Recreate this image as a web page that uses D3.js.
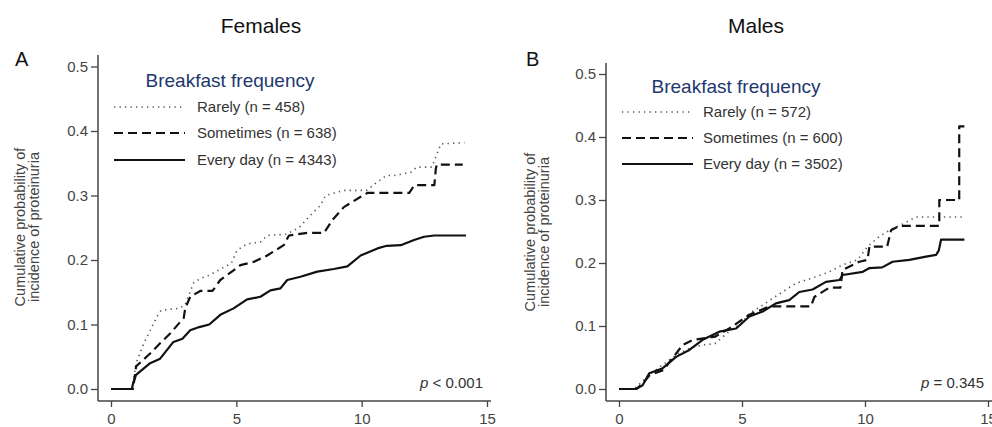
<!DOCTYPE html>
<html>
<head>
<meta charset="utf-8">
<script src="https://cdn.jsdelivr.net/npm/d3@7"></script>
<style>
  html, body { margin: 0; padding: 0; background: #fff; }
  svg { display: block; font-family: "Liberation Sans", Arial, sans-serif; }
</style>
</head>
<body>
<svg id="chart" width="992" height="427"></svg>
<script>
// ---------- data ----------
const xTicks = [0, 5, 10, 15];
const yTicks = [0, 0.1, 0.2, 0.3, 0.4, 0.5];
const panelTitles = ["Females", "Males"];
const panelLetters = ["A", "B"];
const legendTitle = "Breakfast frequency";
const seriesNames = ["Rarely", "Sometimes", "Every day"];
const femaleN = [458, 638, 4343];
const maleN = [572, 600, 3502];
const pValues = ["< 0.001", "= 0.345"];
const yAxisLabel = ["Cumulative probability of", "incidence of proteinuria"];

// cumulative incidence curves: [years, probability]
const femaleRarely = [[0,0],[0.85,0],[1.0,0.04],[1.3,0.07],[1.83,0.112],[2.0,0.122],[2.7,0.125],[2.95,0.13],[3.3,0.165],[3.6,0.172],[3.9,0.176],[4.8,0.195],[5.03,0.215],[5.43,0.225],[5.96,0.228],[6.23,0.238],[7.0,0.24],[7.5,0.25],[7.9,0.267],[8.36,0.285],[8.56,0.3],[9.29,0.308],[10.2,0.308],[10.56,0.319],[10.99,0.331],[11.3,0.331],[11.96,0.336],[12.2,0.344],[12.8,0.344],[13.16,0.38],[14.1,0.382]];
const femaleSometimes = [[0,0],[0.88,0],[1.0,0.035],[1.56,0.055],[1.96,0.071],[2.36,0.086],[2.76,0.104],[2.9,0.11],[2.96,0.125],[3.16,0.143],[3.56,0.152],[4.05,0.152],[4.36,0.169],[4.89,0.184],[5.16,0.192],[5.69,0.197],[6.23,0.207],[6.89,0.223],[7.1,0.238],[7.83,0.242],[8.5,0.242],[8.83,0.262],[9.29,0.282],[9.96,0.298],[10.23,0.304],[11.9,0.304],[12.1,0.316],[12.9,0.316],[12.96,0.342],[13.0,0.348],[14.03,0.348]];
const femaleEveryDay = [[0,0],[0.83,0],[0.89,0.01],[1.0,0.022],[1.56,0.04],[1.96,0.047],[2.49,0.073],[2.85,0.078],[3.16,0.091],[3.52,0.096],[3.92,0.1],[4.36,0.115],[4.89,0.125],[5.43,0.139],[5.96,0.143],[6.36,0.153],[6.76,0.156],[7.03,0.169],[7.56,0.174],[8.23,0.182],[8.89,0.186],[9.43,0.19],[9.96,0.207],[10.63,0.218],[11.0,0.222],[11.56,0.223],[12.09,0.231],[12.49,0.236],[12.89,0.238],[14.16,0.238]];

const maleRarely = [[0,0],[0.6,0],[0.9,0.01],[1.2,0.022],[1.6,0.033],[2.0,0.045],[2.4,0.056],[2.9,0.065],[3.4,0.07],[3.9,0.072],[4.5,0.092],[5.0,0.105],[5.3,0.12],[5.8,0.132],[6.25,0.144],[6.8,0.158],[7.2,0.168],[8.0,0.178],[8.55,0.186],[9.09,0.197],[9.7,0.205],[10.1,0.226],[10.58,0.242],[11.12,0.255],[11.5,0.261],[12.07,0.273],[14.1,0.273]];
const maleSometimes = [[0,0],[0.7,0],[0.95,0.008],[1.25,0.022],[1.8,0.03],[2.2,0.05],[2.59,0.07],[3.0,0.078],[3.9,0.083],[4.48,0.096],[5.3,0.118],[6.11,0.131],[7.8,0.131],[7.94,0.146],[8.55,0.161],[9.0,0.161],[9.09,0.189],[9.77,0.202],[10.1,0.205],[10.18,0.226],[10.9,0.226],[11.06,0.252],[11.4,0.259],[13.02,0.259],[13.02,0.3],[13.83,0.3],[13.83,0.417],[14.04,0.417]];
const maleEveryDay = [[0,0],[0.69,0],[0.96,0.006],[1.23,0.025],[1.78,0.033],[2.32,0.051],[2.86,0.062],[3.4,0.078],[4.08,0.091],[4.76,0.096],[5.3,0.115],[5.84,0.123],[6.38,0.136],[6.92,0.141],[7.33,0.154],[7.87,0.158],[8.41,0.17],[8.96,0.173],[9.09,0.181],[9.91,0.186],[10.18,0.192],[10.7,0.193],[11.12,0.202],[11.8,0.205],[12.48,0.21],[12.89,0.213],[13.0,0.22],[13.09,0.237],[14.04,0.237]];

// ---------- layout ----------
const panels = [
  { title: panelTitles[0], letter: panelLetters[0], n: femaleN, p: pValues[0],
    series: [femaleRarely, femaleSometimes, femaleEveryDay],
    xRange: [111, 487], yRange: [389, 66.5], axisX: 98, axisY: 401, spineTop: 55, spineRight: 491,
    titleX: 261, letterX: 15, labelX: [25, 39], labelY: 227,
    legLine: [114, 185], legText: 197, legTitleX: 230, legTitleY: 87, legRows: [107, 133, 160], legTextDy: 5,
    pX: 483 },
  { title: panelTitles[1], letter: panelLetters[1], n: maleN, p: pValues[1],
    series: [maleRarely, maleSometimes, maleEveryDay],
    xRange: [619, 988], yRange: [389, 74], axisX: 606, axisY: 401, spineTop: 63, spineRight: 992,
    titleX: 756, letterX: 526, labelX: [535, 549], labelY: 232,
    legLine: [622, 693], legText: 703, legTitleX: 736, legTitleY: 93, legRows: [112, 138, 164], legTextDy: 5,
    pX: 984 }
];

const styles = [
  { dash: "1.3,4.2", width: 1.6, color: "#555" },
  { dash: "9,5", width: 2.2, color: "#111" },
  { dash: null, width: 2.2, color: "#111" }
];

const svg = d3.select("#chart");
const axisColor = "#444";

panels.forEach(pn => {
  const g = svg.append("g");
  const x = d3.scaleLinear().domain([0, 15]).range(pn.xRange);
  const y = d3.scaleLinear().domain([0, 0.5]).range(pn.yRange);

  // title & letter
  g.append("text").attr("x", pn.titleX).attr("y", 33).attr("text-anchor", "middle")
    .attr("font-size", 21).attr("fill", "#111").text(pn.title);
  g.append("text").attr("x", pn.letterX).attr("y", 66)
    .attr("font-size", 20).attr("fill", "#111").text(pn.letter);

  // y axis
  const ya = g.append("g").attr("transform", `translate(${pn.axisX},0)`)
    .call(d3.axisLeft(y).tickValues(yTicks).tickFormat(d3.format(".1f")).tickSize(7).tickPadding(3));
  ya.select(".domain").remove();
  ya.selectAll(".tick line").attr("stroke", axisColor).attr("stroke-width", 1.3);
  ya.selectAll(".tick text").attr("font-size", 15).attr("fill", axisColor).attr("font-family", "Liberation Sans, Arial, sans-serif");
  g.append("line").attr("x1", pn.axisX).attr("x2", pn.axisX).attr("y1", pn.spineTop).attr("y2", pn.axisY)
    .attr("stroke", axisColor).attr("stroke-width", 1.5);

  // x axis
  const xa = g.append("g").attr("transform", `translate(0,${pn.axisY})`)
    .call(d3.axisBottom(x).tickValues(xTicks).tickFormat(d3.format("d")).tickSize(6).tickPadding(6));
  xa.select(".domain").remove();
  xa.selectAll(".tick line").attr("stroke", axisColor).attr("stroke-width", 1.3);
  xa.selectAll(".tick text").attr("font-size", 15).attr("fill", axisColor).attr("font-family", "Liberation Sans, Arial, sans-serif");
  g.append("line").attr("x1", pn.axisX).attr("x2", pn.spineRight).attr("y1", pn.axisY).attr("y2", pn.axisY)
    .attr("stroke", axisColor).attr("stroke-width", 1.5);

  // y axis label
  yAxisLabel.forEach((s, i) => {
    g.append("text")
      .attr("transform", `translate(${pn.labelX[i]},${pn.labelY}) rotate(-90)`)
      .attr("text-anchor", "middle").attr("font-size", 14.5).attr("fill", "#444").text(s);
  });

  // curves
  const line = d3.line().x(d => x(d[0])).y(d => y(d[1])).curve(d3.curveLinear);
  pn.series.forEach((data, i) => {
    const st = styles[i];
    g.append("path").datum(data).attr("d", line)
      .attr("fill", "none").attr("stroke", st.color).attr("stroke-width", st.width)
      .attr("stroke-dasharray", st.dash).attr("stroke-linejoin", "round");
  });

  // legend
  g.append("text").attr("x", pn.legTitleX).attr("y", pn.legTitleY).attr("text-anchor", "middle")
    .attr("font-size", 19).attr("fill", "#22386d").text(legendTitle);
  seriesNames.forEach((nm, i) => {
    const st = styles[i];
    const yy = pn.legRows[i];
    g.append("line").attr("x1", pn.legLine[0]).attr("x2", pn.legLine[1]).attr("y1", yy).attr("y2", yy)
      .attr("stroke", st.color).attr("stroke-width", st.width).attr("stroke-dasharray", st.dash);
    g.append("text").attr("x", pn.legText).attr("y", yy + pn.legTextDy)
      .attr("font-size", 15).attr("fill", "#333").text(`${nm} (n = ${pn.n[i]})`);
  });

  // p value
  const pt = g.append("text").attr("x", pn.pX).attr("y", 388).attr("text-anchor", "end")
    .attr("font-size", 15).attr("fill", "#333");
  pt.append("tspan").attr("font-style", "italic").text("p");
  pt.append("tspan").text(" " + pn.p);
});
</script>
</body>
</html>
